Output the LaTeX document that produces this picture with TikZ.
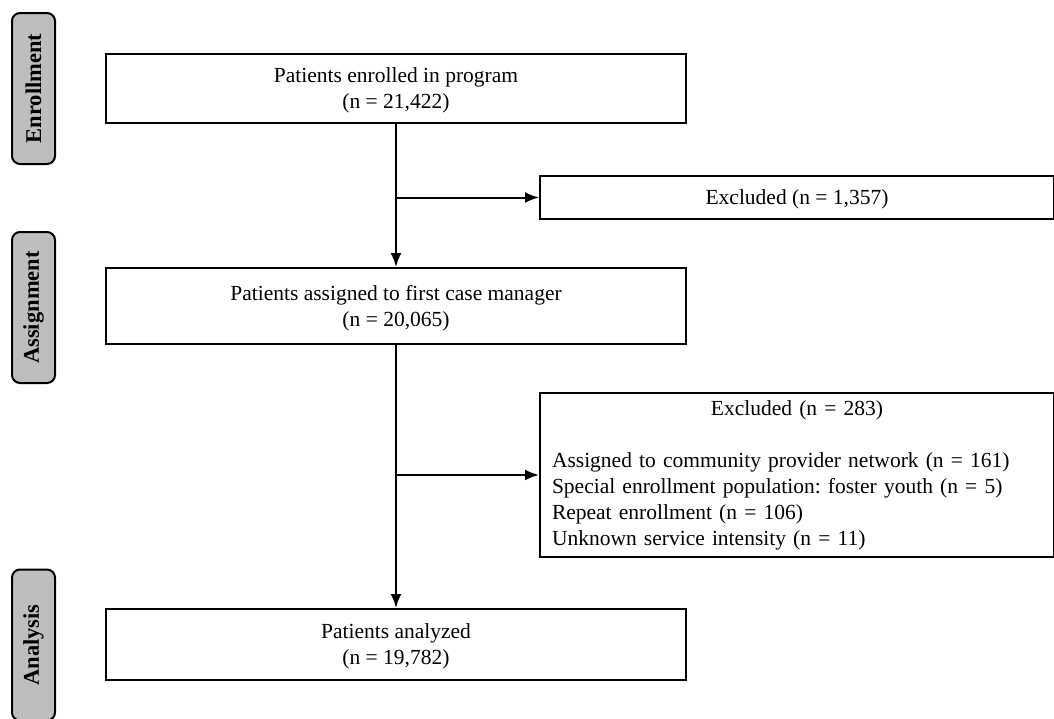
\documentclass[tikz,border=0pt]{standalone}
\usepackage{fontspec}
\setmainfont{Liberation Serif}
\usetikzlibrary{arrows.meta}
\definecolor{phasegray}{RGB}{190,190,190}
\frenchspacing
\begin{document}
\begin{tikzpicture}[x=1pt,y=-1pt,
    font=\fontsize{21.5}{26}\selectfont,
    box/.style={draw,line width=2pt,align=center,minimum width=580pt,inner sep=0pt,text depth=0pt},
    excl/.style={draw,line width=2pt,minimum width=514pt,inner sep=0pt},
    side/.style={draw,line width=2pt,fill=phasegray,rounded corners=8pt,rotate=90,
      minimum width=151pt,minimum height=43pt,inner sep=0pt,
      font=\fontsize{22.5}{26}\selectfont\bfseries},
    flow/.style={line width=2pt,-{Latex[length=14pt,width=11pt]}}]
  \useasboundingbox (0,0) rectangle (1054,718);
  \node[side] (enroll) at (33.5,88.5) {Enrollment};
  \node[side] (assign) at (33.5,307.5) {Assignment};
  \node[side] (analys) at (33.5,645) {Analysis};
  \node[box,minimum height=69pt] (enrolled) at (396,88.5)
    {Patients enrolled in program\\(n = 21,422)};
  \node[box,minimum height=76pt] (assigned) at (396,306)
    {Patients assigned to first case manager\\(n = 20,065)};
  \node[box,minimum height=71pt] (analyzed) at (396,644.5)
    {Patients analyzed\\(n = 19,782)};
  \node[excl,minimum height=43pt,text depth=0pt] (excl1) at (797,197.5) {Excluded (n = 1,357)};
  \node[excl,minimum height=164pt,text width=490pt,align=left] (excl2) at (797,475)
    {\centering Excluded (n = 283)\par\vspace{26pt}\raggedright
     Assigned to community provider network (n = 161)\\
     Special enrollment population: foster youth (n = 5)\\
     Repeat enrollment (n = 106)\\
     Unknown service intensity (n = 11)};
  \draw[flow] (enrolled) -- (assigned);
  \draw[flow] (enrolled.south |- excl1) -- (excl1);
  \draw[flow] (assigned) -- (analyzed);
  \draw[flow] (assigned.south |- excl2) -- (excl2);
\end{tikzpicture}
\end{document}
